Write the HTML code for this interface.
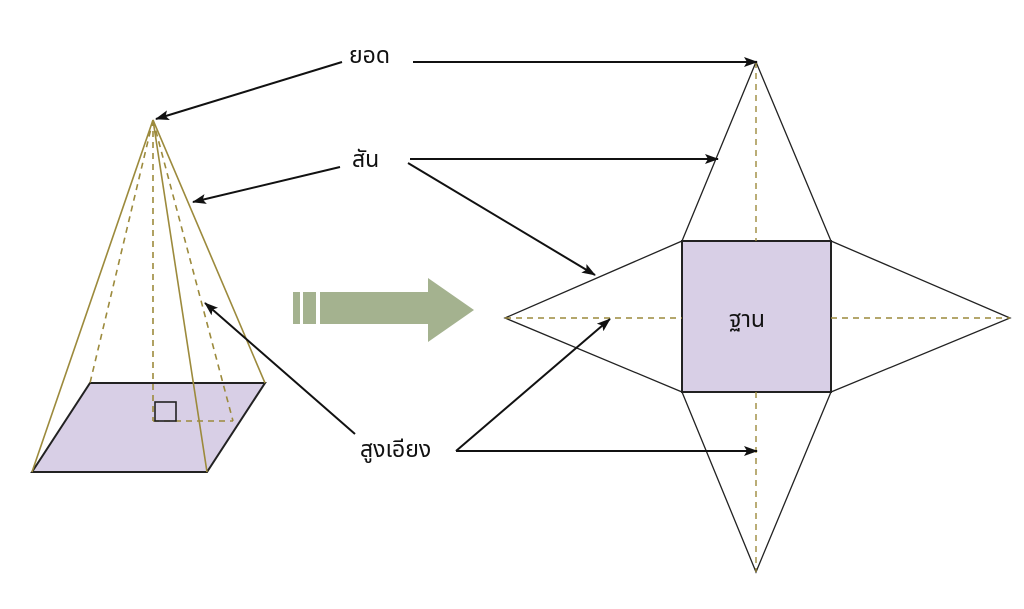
<!DOCTYPE html>
<html><head><meta charset="utf-8"><style>
html,body{margin:0;padding:0;background:#fff;width:1024px;height:609px;overflow:hidden}
svg text{font-family:"Liberation Sans","Noto Sans Thai","Tlwg Typo","Loma",sans-serif;font-size:23px;fill:#111}
</style></head><body>
<svg width="1024" height="609" viewBox="0 0 1024 609" xmlns="http://www.w3.org/2000/svg">
<defs><marker id="a" markerWidth="14" markerHeight="10" refX="13" refY="5" orient="auto" markerUnits="userSpaceOnUse" viewBox="0 0 14 10"><path d="M0,0 L14,5 L0,10 L3,5 Z" fill="#111"/></marker></defs>
<polygon points="32,472 207,472 265,383 90,383" fill="#d8cfe6" stroke="#222" stroke-width="2"/>
<g stroke="#9c8a3c" stroke-width="1.6" fill="none">
<line x1="153" y1="120" x2="32" y2="472"/>
<line x1="153" y1="120" x2="207" y2="472"/>
<line x1="153" y1="120" x2="265" y2="383"/>
<g stroke-dasharray="6,5">
<line x1="153" y1="120" x2="90" y2="383"/>
<line x1="153" y1="120" x2="153" y2="421"/>
<line x1="153" y1="120" x2="233" y2="421"/>
<line x1="153" y1="421" x2="233" y2="421"/>
</g></g>
<rect x="155" y="402" width="21" height="19" fill="none" stroke="#222" stroke-width="1.6"/>
<g fill="#a4b28f">
<rect x="293" y="292" width="7" height="32"/><rect x="303" y="292" width="13" height="32"/>
<polygon points="320,292 428,292 428,278 474,310 428,342 428,324 320,324"/>
</g>
<rect x="682" y="241" width="149" height="151" fill="#d8cfe6" stroke="#222" stroke-width="2"/>
<g stroke="#222" stroke-width="1.3" fill="none">
<polyline points="682,241 756,62 831,241"/>
<polyline points="682,241 505,318 682,392"/>
<polyline points="831,241 1010,318 831,392"/>
<polyline points="682,392 756,572 831,392"/>
</g>
<g stroke="#9c8a3c" stroke-width="1.4" stroke-dasharray="6,5">
<line x1="756" y1="62" x2="756" y2="241"/><line x1="756" y1="392" x2="756" y2="572"/>
<line x1="505" y1="318" x2="682" y2="318"/><line x1="831" y1="318" x2="1010" y2="318"/>
</g>
<text x="729" y="327">ฐาน</text>
<text x="349" y="63">ยอด</text>
<text x="352" y="167">สัน</text>
<text x="360" y="457">สูงเอียง</text>
<g stroke="#111" stroke-width="2" fill="none" marker-end="url(#a)">
<line x1="342" y1="62" x2="156" y2="119"/>
<line x1="413" y1="62" x2="757" y2="62"/>
<line x1="340" y1="167" x2="193" y2="202"/>
<line x1="410" y1="159" x2="718" y2="159"/>
<line x1="408" y1="163" x2="595" y2="275"/>
<line x1="355" y1="434" x2="205" y2="303"/>
<line x1="456" y1="451" x2="610" y2="319"/>
<line x1="456" y1="451" x2="757" y2="451"/>
</g>
</svg>
</body></html>
